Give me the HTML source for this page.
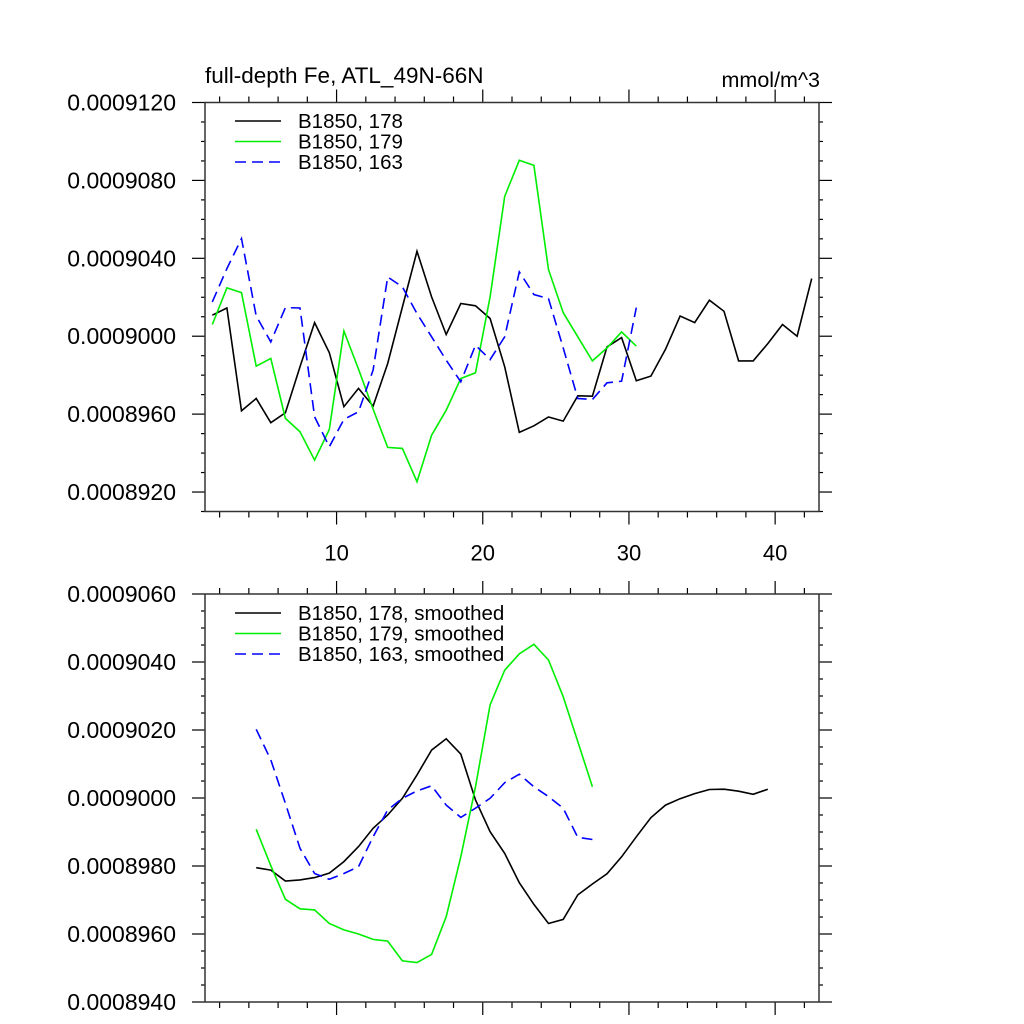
<!DOCTYPE html>
<html><head><meta charset="utf-8"><style>
html,body{margin:0;padding:0;background:#fff;}
svg{display:block;font-family:"Liberation Sans",sans-serif;}
</style></head><body>
<svg id="chart" width="1024" height="1024" viewBox="0 0 1024 1024" xmlns="http://www.w3.org/2000/svg"></svg>
<script>
const topBlack=[9010.8,9014.5,8961.7,8968,8955.6,8960.7,8984.3,9007,8991.6,8963.8,8973.2,8964.1,8986,9015,9043.6,9020.2,9000.9,9016.8,9015.6,9009.1,8984.3,8950.6,8954,8958.5,8956.4,8969.4,8969.2,8994.5,8999.3,8977.1,8979.5,8993.3,9010.4,9007,9018.5,9012.8,8987.3,8987.3,8996.2,9006,9000,9029.6];
const topGreen=[9006,9024.8,9022.4,8984.6,8988.6,8957.8,8950.9,8936.4,8952.1,9002.7,8983.1,8962.6,8942.9,8942.4,8925.3,8949.2,8962,8978.3,8981.2,9020.2,9071.8,9090.3,9087.7,9034.2,9012.1,8999.7,8987.3,8994,9002.2,8994.9];
const topBlue=[9017.6,9034.7,9050.1,9010.4,8997.1,9014.7,9014.5,8958.6,8943.2,8957.3,8961.2,8982.6,9030.4,9025.3,9011.6,8999.7,8987.7,8976.6,8995.4,8988,8999.7,9033,9021.4,9019.3,8994,8968,8967.5,8976.1,8976.9,9014.7];
const botBlack=[8979.5,8978.8,8975.6,8975.9,8976.6,8977.9,8981.3,8985.7,8991.1,8995,8999.9,9006.8,9014.1,9017.4,9012.9,8999.4,8990.1,8983.7,8975.1,8968.7,8963.1,8964.3,8971.5,8974.7,8977.7,8982.7,8988.6,8994.2,8997.9,8999.8,9001.3,9002.5,9002.6,9002,9001.1,9002.6];
const botGreen=[8990.8,8980.1,8970.2,8967.4,8967.1,8963.1,8961.2,8960,8958.4,8957.9,8952.1,8951.6,8954,8965.1,8982.7,9003.3,9027.4,9037.6,9042.4,9045.2,9040.6,9029.8,9016.6,9003.3];
const botBlue=[9020.2,9011.2,8998.4,8985.2,8977.8,8976.1,8977.8,8979.8,8988.6,8996.5,8999.9,9002.1,9003.6,8997.9,8994.3,8997,8999.9,9004.5,9007,9003.3,9000.4,8997,8988.4,8987.8];
const topYTicks=["0.0008920","0.0008960","0.0009000","0.0009040","0.0009080","0.0009120"];
const botYTicks=["0.0008940","0.0008960","0.0008980","0.0009000","0.0009020","0.0009040","0.0009060"];
const xTickLabels=["10","20","30","40"];
const topLegend=["B1850, 178","B1850, 179","B1850, 163"];
const botLegend=["B1850, 178, smoothed","B1850, 179, smoothed","B1850, 163, smoothed"];

const svg=document.getElementById('chart');
const NS='http://www.w3.org/2000/svg';
function mk(tag,attrs,parent){const e=document.createElementNS(NS,tag);for(const k in attrs)e.setAttribute(k,attrs[k]);(parent||svg).appendChild(e);return e;}
const L=205,R=819;
const xs=v=>L+(v-1)/(43-1)*(R-L);
function panel(name,T,B,ymin,ymax,yMajor,yMinor,yLabels,series,legend,legY,showXLabels){
  const g=mk('g',{});
  
  
  const ys=v=>B-(v-ymin)/(ymax-ymin)*(B-T);
  const nMin=Math.round((ymax-ymin)/yMinor);
  const per=Math.round(yMajor/yMinor);
  const off=Math.round(((Math.ceil(ymin/yMajor-1e-6)*yMajor)-ymin)/yMinor);
  for(let i=0;i<=nMin;i++){
    const v=ymin+i*yMinor;const y=ys(v);const maj=((i-off)%per+per)%per===0;
    const len=maj?13:4;
    mk('line',{x1:L-len,x2:L,y1:y,y2:y,stroke:'#000','stroke-width':1.2},g);
    mk('line',{x1:R,x2:R+len,y1:y,y2:y,stroke:'#000','stroke-width':1.2},g);
  }
  yLabels.forEach(s=>{const v=parseFloat(s);const t=mk('text',{x:176,y:ys(v)+8,'text-anchor':'end','font-size':23},g);t.textContent=s;
    
    });
  for(let v=2;v<=42;v+=2){
    const x=xs(v);const maj=v%10===0;const len=maj?13:6;
    mk('line',{x1:x,x2:x,y1:T-len,y2:T,stroke:'#000','stroke-width':1.2},g);
    mk('line',{x1:x,x2:x,y1:B,y2:B+len,stroke:'#000','stroke-width':1.2},g);
  }
  if(showXLabels){xTickLabels.forEach(s=>{const t=mk('text',{x:xs(+s),y:B+49,'text-anchor':'middle','font-size':22},g);t.textContent=s;
    
    });}
  mk('rect',{x:L,y:T,width:R-L,height:B-T,fill:'none',stroke:'#333','stroke-width':1.5},g);
  series.forEach(s=>{
    const pts=s.data.map((v,i)=>xs(s.x0+i).toFixed(1)+','+ys(v*1e-7).toFixed(1)).join(' ');
    const p=mk('polyline',{points:pts,fill:'none',stroke:s.color,'stroke-width':1.6,'stroke-dasharray':s.dash||'none'},g);
    
    
  });
  legend.forEach((s,i)=>{
    const y=legY+i*20.5;
    const ln=mk('line',{x1:235,x2:281,y1:y,y2:y,stroke:series[i].color,'stroke-width':1.6,'stroke-dasharray':series[i].dash||'none'},g);
    
    
    const t=mk('text',{x:298,y:y+7,'font-size':20.5},g);t.textContent=s;
    
    
  });
}
panel('top-panel',102.5,511.5,0.000891,0.000912,0.000004,0.000001,topYTicks,[
  {name:'line-178',data:topBlack,x0:1.5,color:'#000'},
  {name:'line-179',data:topGreen,x0:1.5,color:'#00ee00'},
  {name:'line-163',data:topBlue,x0:1.5,color:'#0000ff',dash:'11,6'}],topLegend,121,true);
panel('bottom-panel',594,1002,0.000894,0.000906,0.000002,0.0000005,botYTicks,[
  {name:'line-178-smoothed',data:botBlack,x0:4.5,color:'#000'},
  {name:'line-179-smoothed',data:botGreen,x0:4.5,color:'#00ee00'},
  {name:'line-163-smoothed',data:botBlue,x0:4.5,color:'#0000ff',dash:'11,6'}],botLegend,613,false);
const t1=mk('text',{x:205,y:83,'font-size':22.5});t1.textContent='full-depth Fe, ATL_49N-66N';


const t2=mk('text',{x:820,y:87,'font-size':21.5,'text-anchor':'end'});t2.textContent='mmol/m^3';


</script>
</body></html>
